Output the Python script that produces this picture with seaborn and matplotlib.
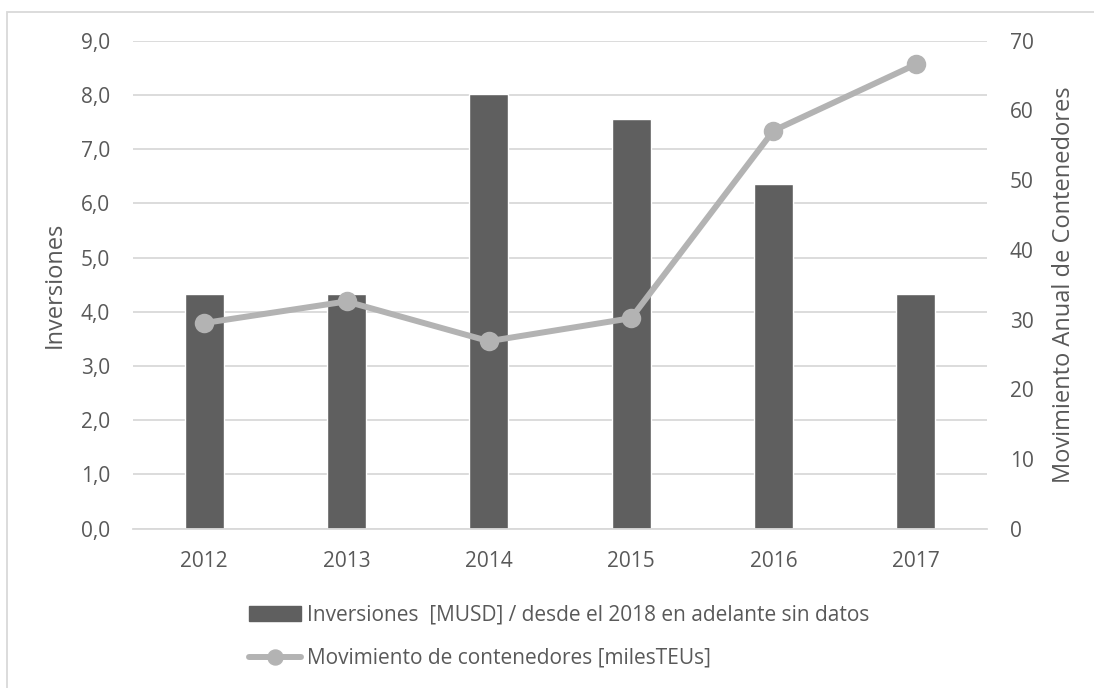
import numpy as np
import pandas as pd
import seaborn as sns
import matplotlib.pyplot as plt
from matplotlib.ticker import FuncFormatter, MultipleLocator
from matplotlib.patches import Rectangle
from matplotlib.lines import Line2D

# Datos
anios = ['2012', '2013', '2014', '2015', '2016', '2017']
inversiones = [4.32, 4.32, 8.02, 7.56, 6.36, 4.32]
contenedores = [29.5, 32.6, 26.9, 30.2, 57.1, 66.6]

df = pd.DataFrame({'anio': anios, 'inv': inversiones, 'cont': contenedores})

sns.set_style('white')
plt.rcParams['font.family'] = ['Open Sans', 'DejaVu Sans']
gris_txt = '#595959'
W, H = 1094, 688

fig = plt.figure(figsize=(W / 100, H / 100), dpi=100)
ax = fig.add_axes([133 / W, 1 - 528.7 / H, (987 - 133) / W, (528.7 - 40.7) / H])

sns.barplot(data=df, x='anio', y='inv', color='#5f5f5f', saturation=1, width=0.275, ax=ax)
ax.set_ylim(0, 9)
ax.yaxis.set_major_locator(MultipleLocator(1))
ax.yaxis.set_major_formatter(FuncFormatter(lambda v, p: f'{v:.1f}'.replace('.', ',')))
ax.grid(axis='y', color='#d9d9d9', linewidth=1.3)
ax.set_axisbelow(True)
for s in ['top', 'right', 'left']:
    ax.spines[s].set_visible(False)
ax.spines['bottom'].set_color('#d9d9d9')
ax.spines['bottom'].set_linewidth(1.3)
ax.set_xlabel('')
ax.set_ylabel('Inversiones', fontsize=17, color=gris_txt, labelpad=10)
ax.tick_params(axis='both', length=0, labelsize=15, colors=gris_txt)
ax.tick_params(axis='x', pad=16)
ax.tick_params(axis='y', pad=16.5)

ax2 = ax.twinx()
sns.pointplot(data=df, x='anio', y='cont', color='#b3b3b3', markers='o',
              markersize=10.8, linewidth=4.3, ax=ax2)
ax2.set_ylim(0, 70)
ax2.yaxis.set_major_locator(MultipleLocator(10))
ax2.set_ylabel('Movimiento Anual de Contenedores', fontsize=17, color=gris_txt, labelpad=13)
ax2.tick_params(axis='y', length=0, labelsize=15, colors=gris_txt, pad=16.5)
for s in ax2.spines.values():
    s.set_visible(False)
ax.set_xlim(-0.5, 5.5)
ax2.set_xlim(-0.5, 5.5)

# Leyenda
h1 = Rectangle((0, 0), 1, 1, color='#5f5f5f')
h2 = Line2D([0], [0], color='#b3b3b3', linewidth=4.3, marker='o', markersize=10.8)
fig.legend([h1, h2],
           ['Inversiones  [MUSD] / desde el 2018 en adelante sin datos',
            'Movimiento de contenedores [milesTEUs]'],
           loc='upper left', bbox_to_anchor=(249 / W, 1 - 605 / H),
           frameon=False, fontsize=15, labelcolor=gris_txt, handlelength=2.5,
           handletextpad=0.28, labelspacing=1.05, handleheight=0.7,
           borderpad=0, borderaxespad=0)

# Borde gris del gráfico (solo izquierda y arriba visibles)
fig.patches.append(Rectangle((6.7 / W, -0.01), 1.02, 1 - 11.7 / H + 0.01,
                             transform=fig.transFigure, fill=False,
                             edgecolor='#d9d9d9', linewidth=1.3))

plt.savefig('out.png', dpi=100)
